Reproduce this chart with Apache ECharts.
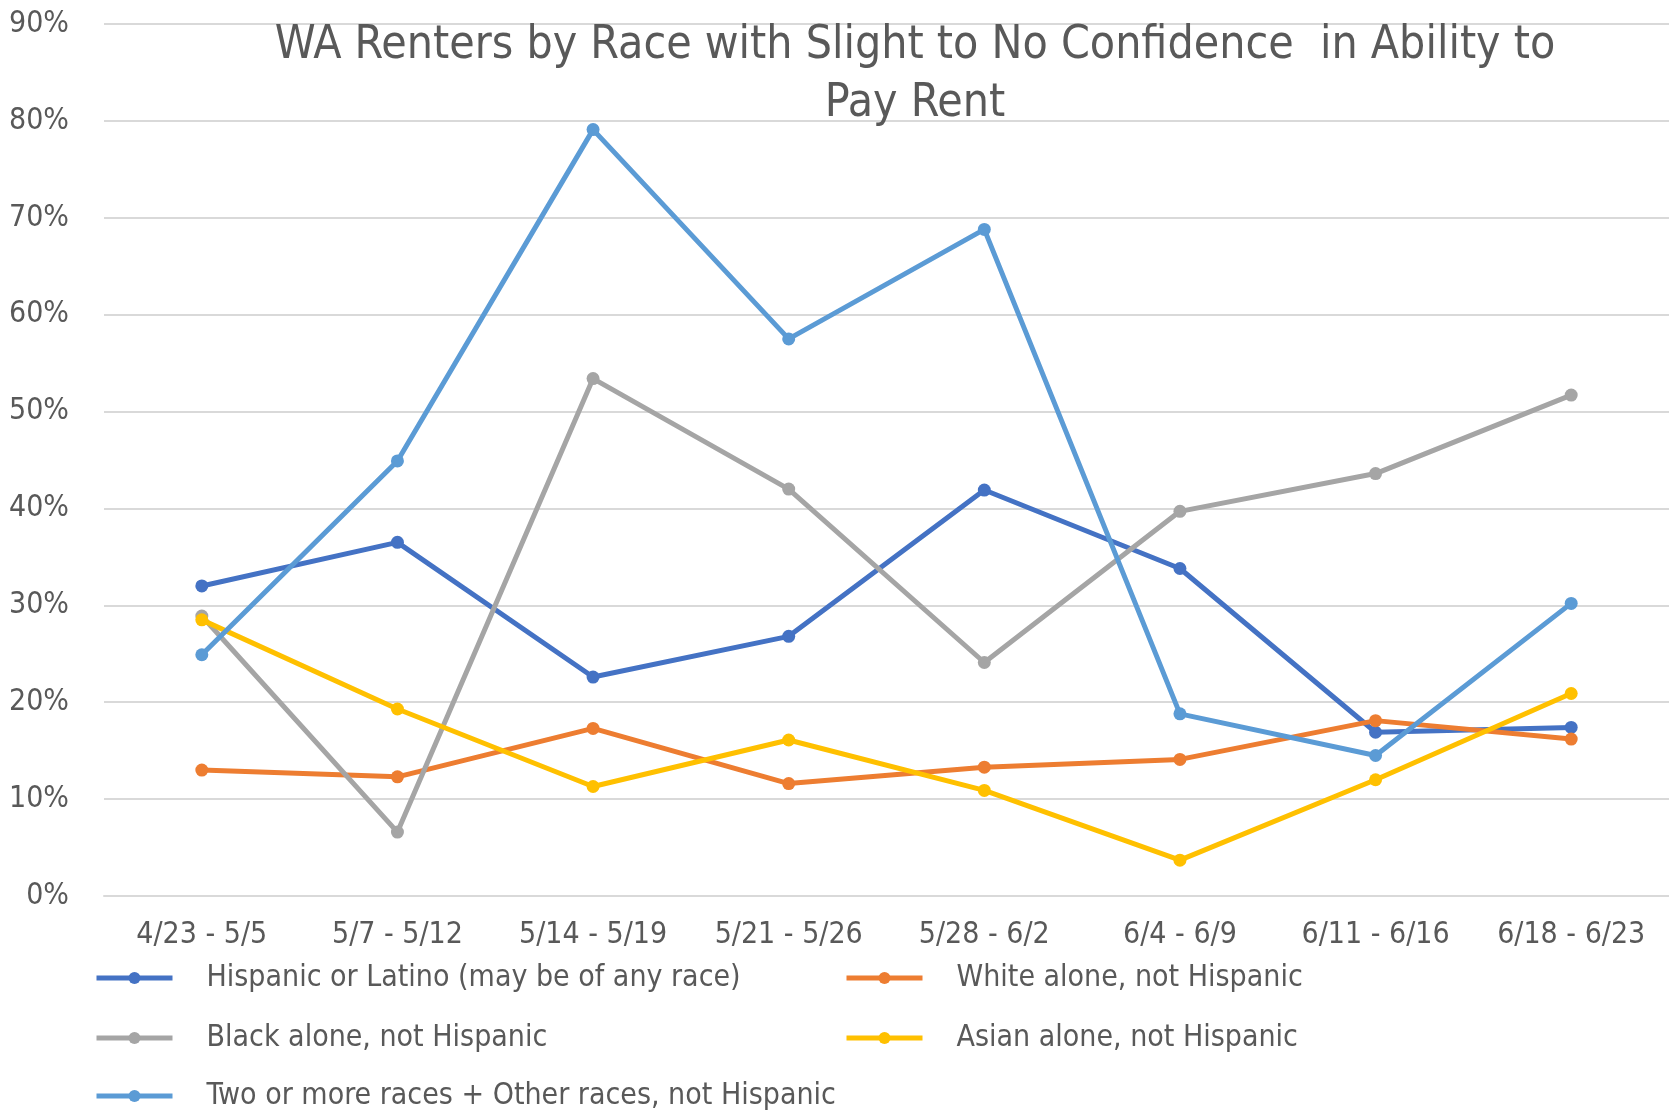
<!DOCTYPE html>
<html>
<head>
<meta charset="utf-8">
<script src="https://cdn.jsdelivr.net/npm/echarts@6/dist/echarts.min.js"></script>
<style>
  html, body { margin: 0; padding: 0; background: #fff; }
  #chart { width: 1669px; height: 1119px; }
</style>
</head>
<body>
<div id="chart"></div>
<script>
// weeks of the survey
const weeks = ['4/23 - 5/5', '5/7 - 5/12', '5/14 - 5/19', '5/21 - 5/26', '5/28 - 6/2', '6/4 - 6/9', '6/11 - 6/16', '6/18 - 6/23'];

// % with slight / no confidence
const hispanic = [32.0, 36.5, 22.6, 26.8, 41.9, 33.8, 16.9, 17.4];
const white    = [13.0, 12.3, 17.3, 11.6, 13.3, 14.1, 18.1, 16.2];
const black    = [28.9, 6.6, 53.4, 42.0, 24.1, 39.7, 43.6, 51.7];
const asian    = [28.5, 19.3, 11.3, 16.1, 10.9, 3.7, 12.0, 20.9];
const twoPlus  = [24.9, 44.9, 79.1, 57.5, 68.8, 18.8, 14.5, 30.2];

const names = [
  'Hispanic or Latino (may be of any race)',
  'White alone, not Hispanic',
  'Black alone, not Hispanic',
  'Asian alone, not Hispanic',
  'Two or more races + Other races, not Hispanic'
];
const colors = ['#4472C4', '#ED7D31', '#A5A5A5', '#FFC000', '#5B9BD5'];
const values = [hispanic, white, black, asian, twoPlus];

const FONT = "'Liberation Sans Narrow', 'DejaVu Sans Condensed', sans-serif";
const TEXT = '#595959';

// legend slots: two columns, three rows
const legendPos = [
  { left: 94, top: 963 },
  { left: 844, top: 963 },
  { left: 94, top: 1023 },
  { left: 844, top: 1023 },
  { left: 94, top: 1081 }
];

const chart = echarts.init(document.getElementById('chart'));

const option = {
  backgroundColor: '#fff',
  animation: false,
  title: {
    text: 'WA Renters by Race with Slight to No Confidence  in Ability to\nPay Rent',
    left: 910,
    top: 12,
    textAlign: 'center',
    textStyle: {
      fontFamily: FONT,
      fontSize: 46,
      fontWeight: 'normal',
      color: TEXT,
      lineHeight: 58
    }
  },
  legend: names.map((n, i) => ({
    data: [n],
    left: legendPos[i].left,
    top: legendPos[i].top,
    itemWidth: 76,
    itemHeight: 15,
    itemGap: 0,
    padding: 0,
    lineStyle: { width: 5 },
    textStyle: { fontFamily: FONT, fontSize: 30, color: TEXT, padding: [0, 0, 0, 29] }
  })),
  grid: { left: 104, right: -5, top: 24, bottom: 223, containLabel: false },
  xAxis: {
    type: 'category',
    data: weeks,
    boundaryGap: true,
    axisLine: { show: true, lineStyle: { color: '#D9D9D9', width: 2 } },
    axisTick: { show: false },
    axisLabel: { color: TEXT, fontFamily: FONT, fontSize: 30, margin: 24, interval: 0 }
  },
  yAxis: {
    type: 'value',
    min: 0,
    max: 90,
    interval: 10,
    axisLine: { show: false },
    axisTick: { show: false },
    splitLine: { lineStyle: { color: '#D9D9D9', width: 2 } },
    axisLabel: { color: TEXT, fontFamily: FONT, fontSize: 30, margin: 35, formatter: '{value}%' }
  },
  series: names.map((n, i) => ({
    name: n,
    type: 'line',
    data: values[i],
    symbol: 'circle',
    symbolSize: 13,
    itemStyle: { color: colors[i] },
    lineStyle: { color: colors[i], width: 5 }
  }))
};

chart.setOption(option);
</script>
</body>
</html>
